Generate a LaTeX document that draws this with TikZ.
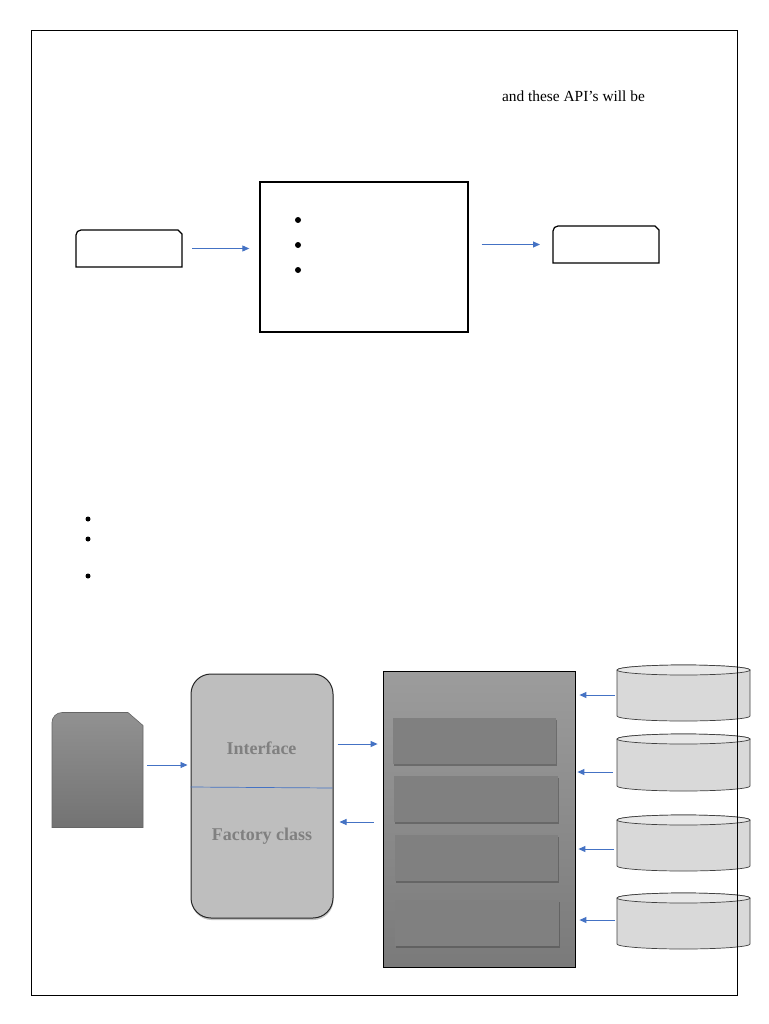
\documentclass[tikz,border=0pt]{standalone}
\usepackage{fontspec}
\setmainfont{Liberation Serif}
\usetikzlibrary{arrows.meta,shadows,calc}
\definecolor{arrblue}{RGB}{68,114,196}
\definecolor{ifgray}{RGB}{190,190,190}
\definecolor{lblgray}{RGB}{128,128,128}
\definecolor{svcgray}{RGB}{128,128,128}
\definecolor{cylbody}{RGB}{217,217,217}
\definecolor{cyltop}{RGB}{232,232,232}
\definecolor{srvtop}{RGB}{156,156,156}
\definecolor{srvbot}{RGB}{122,122,122}
% #1 name, #2 top y, #3 bottom y ; x from 617 to 750, ellipse radii 66.5 x 5
\newcommand\dbcyl[3]{%
  \node[inv, minimum width=133pt, minimum height={#3-#2}] (#1) at (683.5,{(#2+#3)/2}) {};
  \draw[cylline, fill=cylbody] (617,#2+5) -- (617,#3-5)
     .. controls (617,#3-2.24) and (646.77,#3) .. (683.5,#3)
     .. controls (720.23,#3) and (750,#3-2.24) .. (750,#3-5)
     -- (750,#2+5)
     .. controls (750,#2+2.24) and (720.23,#2) .. (683.5,#2)
     .. controls (646.77,#2) and (617,#2+2.24) .. (617,#2+5) -- cycle;
  \draw[cylline, fill=cyltop] (617,#2+5)
     .. controls (617,#2+2.24) and (646.77,#2) .. (683.5,#2)
     .. controls (720.23,#2) and (750,#2+2.24) .. (750,#2+5)
     .. controls (750,#2+7.76) and (720.23,#2+10) .. (683.5,#2+10)
     .. controls (646.77,#2+10) and (617,#2+7.76) .. (617,#2+5) -- cycle;
}
\begin{document}
\begin{tikzpicture}[x=1pt,y=-1pt,
  inv/.style={inner sep=0pt, outer sep=0pt},
  conn/.style={draw=arrblue, line width=0.9pt, -{Triangle[length=7pt,width=6pt]}},
  cylline/.style={draw=black!75, line width=0.7pt},
  lbl/.style={font=\fontsize{18}{20}\selectfont\bfseries, text=lblgray, inner sep=1pt},
  svc/.style={fill=svcgray, inner sep=0pt, drop shadow={shadow xshift=1.2pt, shadow yshift=-1.8pt, opacity=0.55, fill=black!70}},
  dot/.style={fill=black}
]
\useasboundingbox (0,0) rectangle (768,1024);
\fill[white] (0,0) rectangle (768,1024);

% top text
\node[inv, anchor=west, font=\fontsize{15.4}{18}\selectfont] (txt) at (502,96) {and these API’s will be};

% top row
\node[inv, minimum width=106pt, minimum height=37pt] (inA) at (129,248.5) {};
\draw[line width=1.2pt] (inA.south west) [rounded corners=5pt]-- (inA.north west) [sharp corners]-- ($(inA.north east)+(-4,0)$) -- ($(inA.north east)+(0,4)$) -- (inA.south east) -- cycle;
\node[draw, line width=1.4pt, inner sep=0pt, minimum width=208pt, minimum height=150pt] (proc) at (364,257) {};
\fill[dot] (298,220) circle (3pt);
\fill[dot] (298,245) circle (3pt);
\fill[dot] (298,270) circle (3pt);
\node[inv, minimum width=106pt, minimum height=37pt] (outA) at (606,244.5) {};
\draw[line width=1.2pt] (outA.south west) [rounded corners=5pt]-- (outA.north west) [sharp corners]-- ($(outA.north east)+(-4,0)$) -- ($(outA.north east)+(0,4)$) -- (outA.south east) -- cycle;
\draw[conn, shorten <=10pt, shorten >=10pt] (inA.east) -- (inA.east -| proc.west);
\draw[conn, shorten <=13pt, shorten >=13pt] (outA.west -| proc.east) -- (outA.west);

% middle bullets
\fill[dot] (88,519) circle (2.5pt);
\fill[dot] (88,539) circle (2.5pt);
\fill[dot] (88,576) circle (2.5pt);

% bottom: client
\node[inv, minimum width=91pt, minimum height=115pt] (client) at (97.5,770) {};
\shade[top color=black!43, bottom color=black!55, draw=black!60, line width=0.6pt]
  (client.south west) [rounded corners=10pt]-- (client.north west) [sharp corners]-- ($(client.north east)+(-15,0)$) -- ($(client.north east)+(0,13)$) -- (client.south east) -- cycle;

% factory
\node[draw=black!85, line width=1pt, fill=ifgray, rounded corners=20pt, inner sep=0pt,
      minimum width=142pt, minimum height=244pt,
      drop shadow={shadow xshift=0.5pt, shadow yshift=-2pt, opacity=0.45}] (factory) at (262,796) {};
\draw[arrblue, line width=0.7pt] ($(factory.west)+(0,-9)$) -- ($(factory.east)+(-1,-8)$);
\node[lbl] (iface) at (261.5,748) {Interface};
\node[lbl] (fclass) at (262,836) {Factory class};

% server
\node[draw=black, line width=0.8pt, top color=srvtop, bottom color=srvbot, inner sep=0pt,
      minimum width=192pt, minimum height=296pt] (server) at (479,819) {};
\node[svc, minimum width=163pt, minimum height=46pt] (svc1) at (474.5,741) {};
\node[svc, minimum width=164pt, minimum height=46pt] (svc2) at (475.5,799) {};
\node[svc, minimum width=163pt, minimum height=46pt] (svc3) at (476.5,858) {};
\node[svc, minimum width=164pt, minimum height=46pt] (svc4) at (477,923) {};

% databases
\dbcyl{db1}{665}{721}
\dbcyl{db2}{734}{791}
\dbcyl{db3}{815}{871}
\dbcyl{db4}{893}{949}

% connectors bottom
\coordinate (a1) at ($(client.east)+(0,-5)$);
\coordinate (a2) at ($(factory.east)+(0,-52)$);
\coordinate (a3) at ($(server.west)+(0,3)$);
\coordinate (b1) at ($(db1.west)+(0,2)$);
\coordinate (b2) at ($(db2.west)+(0,9.5)$);
\coordinate (b3) at ($(db3.west)+(0,6)$);
\coordinate (b4) at ($(db4.west)+(0,-1)$);
\draw[conn, shorten <=4pt, shorten >=3pt] (a1) -- (a1 -| factory.west);
\draw[conn, shorten <=4pt, shorten >=5pt] (a2) -- (a2 -| server.west);
\draw[conn, shorten <=9pt, shorten >=6pt] (a3) -- (a3 -| factory.east);
\draw[conn, shorten <=2pt, shorten >=4pt] (b1) -- (b1 -| server.east);
\draw[conn, shorten <=4pt, shorten >=2pt] (b2) -- (b2 -| server.east);
\draw[conn, shorten <=3pt, shorten >=3pt] (b3) -- (b3 -| server.east);
\draw[conn, shorten <=2pt, shorten >=4pt] (b4) -- (b4 -| server.east);

% page frame
\draw[line width=0.9pt] (31,30) rectangle (737,995);
\end{tikzpicture}
\end{document}
